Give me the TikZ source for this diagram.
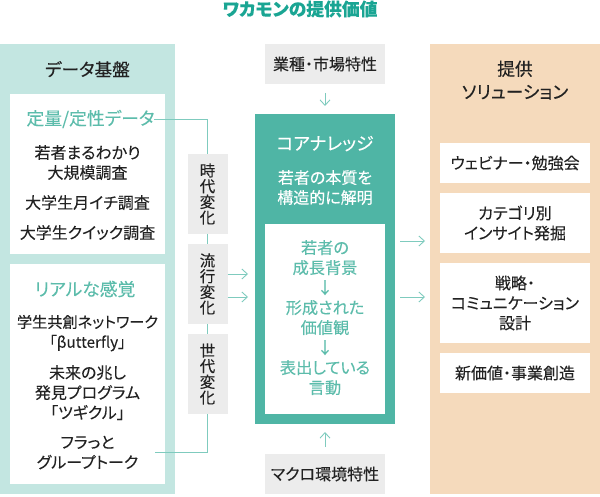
\documentclass[tikz,border=0pt]{standalone}
\usepackage{fontspec}
\setmainfont[RawFeature=+palt,FakeBold=0.08]{Noto Sans CJK JP}
\newfontfamily\headfont[RawFeature=+palt,FakeBold=0.25]{Noto Sans CJK JP}
\usetikzlibrary{arrows.meta,positioning,calc}
\definecolor{teal}{HTML}{4FB5A5}
\definecolor{teallight}{HTML}{C3E6E1}
\definecolor{tealtext}{HTML}{5CBCAB}
\definecolor{tealline}{HTML}{7FCBBE}
\definecolor{titlecol}{HTML}{1AA593}
\definecolor{peach}{HTML}{F5DABC}
\definecolor{greybox}{HTML}{ECECEC}
\definecolor{ink}{HTML}{222222}
\tikzset{
  x=1pt,y=-1pt,
  txt/.style={inner sep=0,outer sep=0,align=center,text=ink,yshift=-0.6pt,font=\fontsize{16}{20}\selectfont},
  head/.style={txt,font=\fontsize{17.7}{23}\headfont\selectfont},
  accent/.style={txt,text=tealtext,yshift=0.6pt,font=\fontsize{17.8}{23}\selectfont},
  inneraccent/.style={txt,text=tealtext,font=\fontsize{16.2}{20}\selectfont},
  vbox/.style={fill=greybox,inner sep=0,outer sep=0,minimum width=40pt,minimum height=80pt,align=center,text=ink,font=\fontsize{15.5}{15.7}\selectfont},
  gbox/.style={fill=greybox,inner sep=0,outer sep=0,minimum width=120pt,minimum height=40pt,align=center,text=ink,font=\fontsize{16}{20}\selectfont},
  wbox/.style={fill=white,inner sep=0,outer sep=0,minimum width=150pt,align=center,text=ink,font=\fontsize{16}{20}\selectfont},
  link/.style={draw=tealline,line width=0.9pt},
  flow/.style={link,-{Straight Barb[length=5.5pt,width=10pt,line width=0.9pt]}},
}
\begin{document}
\begin{tikzpicture}
\useasboundingbox (0,0) rectangle (600,497);
% title
\node[txt,text=titlecol,yshift=0.6pt,font=\fontsize{17.8}{20}\selectfont\bfseries] (title) at (300,9) {ワカモンの提供価値};
% left panel
\fill[teallight] (0,44) rectangle (175,494);
\fill[white] (10,94) rectangle (165,254);
\fill[white] (10,264) rectangle (165,484);
\node[head] (datahead) at (87.5,68.5) {データ基盤};
\node[accent] (teiryo) at (90.5,119) {定量/定性データ};
\node[txt] (maruwakari) at (87.5,162) {若者まるわかり\\大規模調査};
\node[txt] (tsukiichi) at (87.5,202) {大学生月イチ調査};
\node[txt] (quick) at (87.5,232) {大学生クイック調査};
\node[accent] (real) at (85,289) {リアルな感覚};
\node[txt,font=\fontsize{15.2}{20}\selectfont] (butterfly) at (87.5,332.5) {学生共創ネットワーク\\「βutterfly」};
\node[txt] (tsugikuru) at (87.5,392) {未来の兆し\\発見プログラム\\「ツギクル」};
\node[txt] (furatto) at (87.5,452) {フラっと\\グループトーク};
\coordinate (furattoend) at (155,452);
% vertical boxes
\node[vbox] (jidai) at (207.5,194) {時\\代\\変\\化};
\node[vbox] (ryuko) at (207.5,284) {流\\行\\変\\化};
\node[vbox] (sedai) at (207.5,374) {世\\代\\変\\化};
% centre
\node[gbox] (gyoshu) at (325,64) {業種・市場特性};
\node[gbox] (macro) at (325,474) {マクロ環境特性};
\node[fill=teal,inner sep=0,outer sep=0,minimum width=140pt,minimum height=310pt] (core) at (325,269) {};
\node[fill=white,inner sep=0,outer sep=0,minimum width=120pt,minimum height=190pt] (inner) at (325,319) {};
\node[txt,text=white,font=\fontsize{17.8}{20}\selectfont] (corehead) at (325,143) {コアナレッジ};
\node[txt,text=white,font=\fontsize{16}{20}\selectfont] (coresub) at (325,187) {若者の本質を\\構造的に解明};
\node[inneraccent] (innertext) at (325,317) {若者の\\成長背景\\↓\\形成された\\価値観\\↓\\表出している\\言動};
% right panel
\fill[peach] (430,44) rectangle (600,494);
\node[head] (solhead) at (515,79.5) {提供\\ソリューション};
\node[wbox,minimum height=40pt] (webinar) at (515,163) {ウェビナー・勉強会};
\node[wbox,minimum height=60pt] (category) at (515,223) {カテゴリ別\\インサイト発掘};
\node[wbox,minimum height=80pt] (senryaku) at (515,303) {戦略・\\コミュニケーション\\設計};
\node[wbox,minimum height=40pt] (shinkachi) at (515,373) {新価値・事業創造};
% connectors
\draw[link] (teiryo.east) -| (jidai.north);
\draw[link] (jidai.south) -- (ryuko.north);
\draw[link] (ryuko.south) -- (sedai.north);
\draw[link] (furattoend) -| (sedai.south);
\draw[flow,shorten >=7pt] (ryuko.east |- 0,274) -- (core.west |- 0,274);
\draw[flow,shorten >=7pt] (ryuko.east |- 0,297) -- (core.west |- 0,297);
\draw[flow,shorten <=5pt,shorten >=5pt] (core.east |- 0,241) -- (430,241);
\draw[flow,shorten <=5pt,shorten >=5pt] (core.east |- 0,297) -- (430,297);
\draw[flow,shorten <=9pt,shorten >=8pt] (gyoshu.south) -- (core.north);
\draw[flow,shorten <=7pt,shorten >=8pt] (macro.north) -- (core.south);
\end{tikzpicture}
\end{document}
